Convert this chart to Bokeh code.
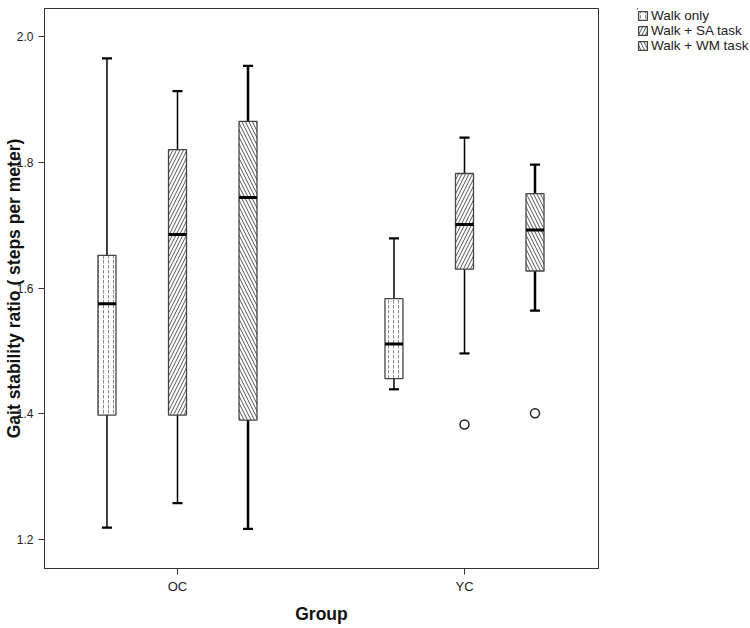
from bokeh.plotting import figure
from bokeh.layouts import row
from bokeh.models import ColumnDataSource, Range1d, FixedTicker, Legend, LegendItem
from bokeh.embed import file_html
from bokeh.resources import INLINE

# ---------------- data ----------------
groups = ["OC", "YC"]
series = ["Walk only", "Walk + SA task", "Walk + WM task"]

# order: OC walk, OC SA, OC WM, YC walk, YC SA, YC WM
box_group = ["OC", "OC", "OC", "YC", "YC", "YC"]
box_series = ["Walk only", "Walk + SA task", "Walk + WM task",
              "Walk only", "Walk + SA task", "Walk + WM task"]
whisker_low = [1.219, 1.258, 1.217, 1.439, 1.496, 1.564]
q1 = [1.398, 1.398, 1.390, 1.456, 1.630, 1.627]
median = [1.575, 1.685, 1.744, 1.511, 1.701, 1.692]
q3 = [1.652, 1.820, 1.865, 1.583, 1.782, 1.750]
whisker_high = [1.965, 1.913, 1.953, 1.679, 1.839, 1.796]

outlier_group = ["YC", "YC"]
outlier_series = ["Walk + SA task", "Walk + WM task"]
outlier_value = [1.383, 1.401]

y_ticks = [1.2, 1.4, 1.6, 1.8, 2.0]

# ---------------- styles ----------------
SPACING = 0.2457
BOX_W = 0.0627
CAP_HALF = 0.0175
hatch_of = {"Walk only": "vertical_dash",
            "Walk + SA task": "right_diagonal_line",
            "Walk + WM task": "left_diagonal_line"}
hatch_scale_of = {"Walk only": 5, "Walk + SA task": 7, "Walk + WM task": 7}
hatch_color_of = {"Walk only": "#8a8a8a", "Walk + SA task": "#555555", "Walk + WM task": "#555555"}
whisker_w = {"Walk only": 1.5, "Walk + SA task": 1.5, "Walk + WM task": 2.5}

def box_style(s):
    return dict(fill_color="white", line_color="#444444", line_width=1.3,
                hatch_pattern=hatch_of[s], hatch_scale=hatch_scale_of[s], hatch_weight=1,
                hatch_color=hatch_color_of[s])

def xpos(g, s):
    return groups.index(g) + (series.index(s) - 1) * SPACING

p = figure(width=604, height=626, output_backend="svg", toolbar_location=None,
           x_range=Range1d(-0.4634, 1.4669), y_range=Range1d(1.15415, 2.04427),
           min_border_left=44, min_border_right=6, min_border_top=5, min_border_bottom=58)
p.xgrid.visible = False
p.ygrid.visible = False
p.outline_line_color = "#333333"
p.outline_line_width = 1
p.background_fill_color = "white"
p.border_fill_color = "white"

# legend panel: a separate figure to the right of the plot; its ranges lie far from
# the data so the swatch renderers themselves draw nothing visible
lg = figure(width=146, height=626, output_backend="svg", toolbar_location=None,
            x_range=Range1d(100, 101), y_range=Range1d(-101, -100),
            x_axis_type=None, y_axis_type=None,
            min_border_left=33, min_border_top=8, min_border_right=0, min_border_bottom=0)
lg.xgrid.visible = False
lg.ygrid.visible = False
lg.outline_line_color = None
lg.background_fill_color = "white"
lg.border_fill_color = "white"

items = []
for s in series:
    idx = [i for i in range(len(box_series)) if box_series[i] == s]
    xs = [xpos(box_group[i], s) for i in idx]
    src = ColumnDataSource(dict(
        x=xs,
        lo=[whisker_low[i] for i in idx],
        q1=[q1[i] for i in idx],
        med=[median[i] for i in idx],
        q3=[q3[i] for i in idx],
        hi=[whisker_high[i] for i in idx],
        xl=[x - BOX_W / 2 for x in xs],
        xr=[x + BOX_W / 2 for x in xs],
        cl=[x - CAP_HALF for x in xs],
        cr=[x + CAP_HALF for x in xs],
    ))
    ww = whisker_w[s]
    p.segment(x0="x", y0="lo", x1="x", y1="q1", source=src, line_color="black", line_width=ww)
    p.segment(x0="x", y0="q3", x1="x", y1="hi", source=src, line_color="black", line_width=ww)
    p.segment(x0="cl", y0="lo", x1="cr", y1="lo", source=src, line_color="black", line_width=2.2)
    p.segment(x0="cl", y0="hi", x1="cr", y1="hi", source=src, line_color="black", line_width=2.2)
    p.vbar(x="x", width=BOX_W, bottom="q1", top="q3", source=src, **box_style(s))
    p.segment(x0="xl", y0="med", x1="xr", y1="med", source=src, line_color="black", line_width=3)
    r = lg.vbar(x="x", width=BOX_W, bottom="q1", top="q3", source=src, **box_style(s))
    items.append(LegendItem(label=s, renderers=[r]))

osrc = ColumnDataSource(dict(
    x=[xpos(g, s) for g, s in zip(outlier_group, outlier_series)],
    y=outlier_value))
p.scatter(x="x", y="y", source=osrc, marker="circle", size=9,
          fill_color="white", line_color="#222222", line_width=1.5)

# axes
p.yaxis.ticker = FixedTicker(ticks=y_ticks)
p.yaxis.major_label_overrides = {t: f"{t:.1f}" for t in y_ticks}
p.xaxis.ticker = FixedTicker(ticks=list(range(len(groups))))
p.xaxis.major_label_overrides = {i: g for i, g in enumerate(groups)}
for ax in (p.xaxis[0], p.yaxis[0]):
    ax.minor_tick_line_color = None
    ax.major_tick_in = 0
    ax.major_tick_out = 6
    ax.major_tick_line_color = "#333333"
    ax.axis_line_color = "#333333"
    ax.major_label_text_font = "Liberation Sans"
    ax.major_label_text_color = "#222222"
    ax.axis_label_text_font = "Liberation Sans"
    ax.axis_label_text_font_style = "bold"
    ax.axis_label_text_font_size = "17.5px"
    ax.axis_label_text_color = "#111111"
p.yaxis.major_label_text_font_size = "12px"
p.xaxis.major_label_text_font_size = "13px"
p.yaxis.major_label_standoff = 5
p.xaxis.major_label_standoff = 4

p.xaxis.axis_label = "Group"
p.xaxis.axis_label_standoff = 7
p.yaxis.axis_label = "Gait stability ratio ( steps per meter)"
p.yaxis.axis_label_standoff = -10

legend = Legend(items=items, location="top_left", orientation="vertical",
                padding=0, margin=0, spacing=0,
                glyph_width=11, glyph_height=11, label_height=15, label_standoff=3,
                label_text_font="Liberation Sans", label_text_font_size="13.5px",
                label_text_color="#222222",
                background_fill_alpha=0, border_line_color=None)
lg.add_layout(legend)

layout = row(p, lg)
open("out.html", "w").write(file_html(layout, INLINE))
